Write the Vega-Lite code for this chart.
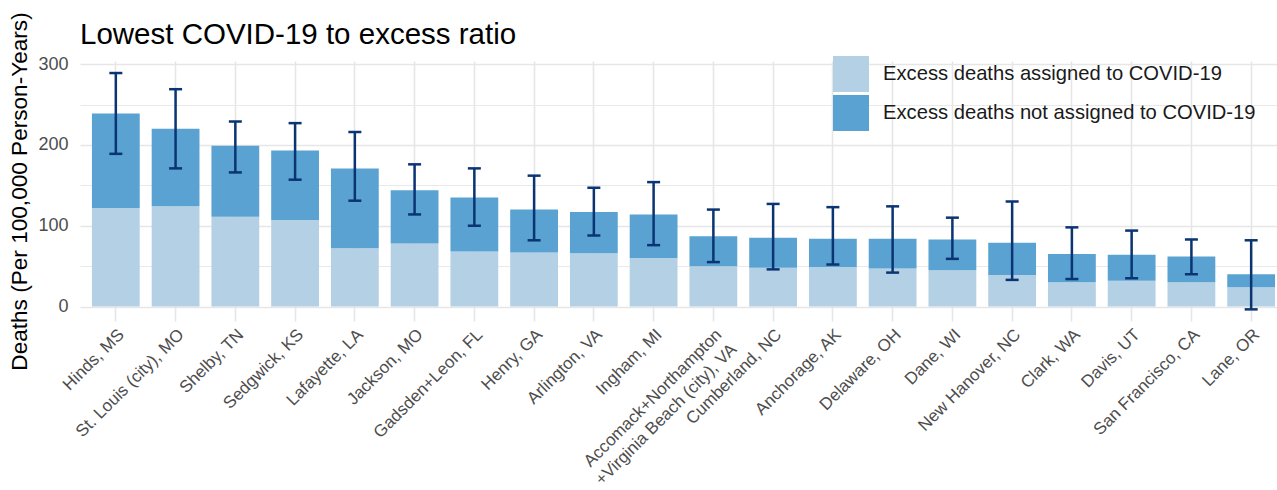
{
  "$schema": "https://vega.github.io/schema/vega-lite/v6.json",
  "width": 1197,
  "height": 260,
  "autosize": {"type": "none"},
  "padding": {"left": 80, "top": 61, "right": 0, "bottom": 169},
  "background": "white",
  "config": {
    "font": "Liberation Sans",
    "view": {"stroke": null},
    "title": {"fontSize": 29.5, "fontWeight": "normal", "color": "#000000", "anchor": "start", "frame": "group", "offset": 0, "dy": 43}
  },
  "title": "Lowest COVID-19 to excess ratio",
  "datasets": {
    "deaths": [
      {"county": "Hinds, MS", "type": "Excess deaths assigned to COVID-19", "value": 122},
      {"county": "Hinds, MS", "type": "Excess deaths not assigned to COVID-19", "value": 117},
      {"county": "St. Louis (city), MO", "type": "Excess deaths assigned to COVID-19", "value": 124},
      {"county": "St. Louis (city), MO", "type": "Excess deaths not assigned to COVID-19", "value": 96},
      {"county": "Shelby, TN", "type": "Excess deaths assigned to COVID-19", "value": 111},
      {"county": "Shelby, TN", "type": "Excess deaths not assigned to COVID-19", "value": 88},
      {"county": "Sedgwick, KS", "type": "Excess deaths assigned to COVID-19", "value": 107},
      {"county": "Sedgwick, KS", "type": "Excess deaths not assigned to COVID-19", "value": 86},
      {"county": "Lafayette, LA", "type": "Excess deaths assigned to COVID-19", "value": 72},
      {"county": "Lafayette, LA", "type": "Excess deaths not assigned to COVID-19", "value": 99},
      {"county": "Jackson, MO", "type": "Excess deaths assigned to COVID-19", "value": 78},
      {"county": "Jackson, MO", "type": "Excess deaths not assigned to COVID-19", "value": 66},
      {"county": "Gadsden+Leon, FL", "type": "Excess deaths assigned to COVID-19", "value": 68},
      {"county": "Gadsden+Leon, FL", "type": "Excess deaths not assigned to COVID-19", "value": 67},
      {"county": "Henry, GA", "type": "Excess deaths assigned to COVID-19", "value": 67},
      {"county": "Henry, GA", "type": "Excess deaths not assigned to COVID-19", "value": 53},
      {"county": "Arlington, VA", "type": "Excess deaths assigned to COVID-19", "value": 66},
      {"county": "Arlington, VA", "type": "Excess deaths not assigned to COVID-19", "value": 51},
      {"county": "Ingham, MI", "type": "Excess deaths assigned to COVID-19", "value": 60},
      {"county": "Ingham, MI", "type": "Excess deaths not assigned to COVID-19", "value": 54},
      {"county": "Accomack+Northampton\n+Virginia Beach (city), VA", "type": "Excess deaths assigned to COVID-19", "value": 50},
      {"county": "Accomack+Northampton\n+Virginia Beach (city), VA", "type": "Excess deaths not assigned to COVID-19", "value": 37},
      {"county": "Cumberland, NC", "type": "Excess deaths assigned to COVID-19", "value": 48},
      {"county": "Cumberland, NC", "type": "Excess deaths not assigned to COVID-19", "value": 37},
      {"county": "Anchorage, AK", "type": "Excess deaths assigned to COVID-19", "value": 49},
      {"county": "Anchorage, AK", "type": "Excess deaths not assigned to COVID-19", "value": 35},
      {"county": "Delaware, OH", "type": "Excess deaths assigned to COVID-19", "value": 47},
      {"county": "Delaware, OH", "type": "Excess deaths not assigned to COVID-19", "value": 37},
      {"county": "Dane, WI", "type": "Excess deaths assigned to COVID-19", "value": 45},
      {"county": "Dane, WI", "type": "Excess deaths not assigned to COVID-19", "value": 38},
      {"county": "New Hanover, NC", "type": "Excess deaths assigned to COVID-19", "value": 39},
      {"county": "New Hanover, NC", "type": "Excess deaths not assigned to COVID-19", "value": 40},
      {"county": "Clark, WA", "type": "Excess deaths assigned to COVID-19", "value": 30},
      {"county": "Clark, WA", "type": "Excess deaths not assigned to COVID-19", "value": 35},
      {"county": "Davis, UT", "type": "Excess deaths assigned to COVID-19", "value": 32},
      {"county": "Davis, UT", "type": "Excess deaths not assigned to COVID-19", "value": 32},
      {"county": "San Francisco, CA", "type": "Excess deaths assigned to COVID-19", "value": 30},
      {"county": "San Francisco, CA", "type": "Excess deaths not assigned to COVID-19", "value": 32},
      {"county": "Lane, OR", "type": "Excess deaths assigned to COVID-19", "value": 24},
      {"county": "Lane, OR", "type": "Excess deaths not assigned to COVID-19", "value": 16}
    ],
    "intervals": [
      {"county": "Hinds, MS", "lower": 189, "upper": 289},
      {"county": "St. Louis (city), MO", "lower": 171, "upper": 269},
      {"county": "Shelby, TN", "lower": 166, "upper": 229},
      {"county": "Sedgwick, KS", "lower": 157, "upper": 227},
      {"county": "Lafayette, LA", "lower": 131, "upper": 216},
      {"county": "Jackson, MO", "lower": 114, "upper": 176},
      {"county": "Gadsden+Leon, FL", "lower": 100, "upper": 171},
      {"county": "Henry, GA", "lower": 82, "upper": 162},
      {"county": "Arlington, VA", "lower": 88, "upper": 147},
      {"county": "Ingham, MI", "lower": 76, "upper": 154},
      {"county": "Accomack+Northampton\n+Virginia Beach (city), VA", "lower": 55, "upper": 120},
      {"county": "Cumberland, NC", "lower": 46, "upper": 127},
      {"county": "Anchorage, AK", "lower": 52, "upper": 123},
      {"county": "Delaware, OH", "lower": 42, "upper": 124},
      {"county": "Dane, WI", "lower": 59, "upper": 110},
      {"county": "New Hanover, NC", "lower": 33, "upper": 130},
      {"county": "Clark, WA", "lower": 34, "upper": 98},
      {"county": "Davis, UT", "lower": 35, "upper": 94},
      {"county": "San Francisco, CA", "lower": 40, "upper": 83},
      {"county": "Lane, OR", "lower": -3.5, "upper": 82}
    ]
  },
  "encoding": {
    "x": {
      "field": "county",
      "type": "nominal",
      "sort": null,
      "title": null,
      "scale": {"paddingInner": 0.2, "paddingOuter": 0.116, "align": 0.86},
      "axis": {
        "bandPosition": 0.5,
        "grid": true,
        "gridColor": "#e6e6e6",
        "gridWidth": 1.6,
        "ticks": false,
        "domain": false,
        "labelAngle": -45,
        "labelAlign": "right",
        "labelBaseline": "top",
        "labelPadding": 5,
        "labelDx": 2,
        "labelFontSize": 17,
        "labelColor": "#4d4d4d",
        "labelLineHeight": 21,
        "labelLimit": 400,
        "labelExpr": "split(datum.label, '\\n')"
      }
    }
  },
  "layer": [
    {
      "data": {"name": "deaths"},
      "mark": {"type": "bar"},
      "encoding": {
        "y": {
          "field": "value",
          "type": "quantitative",
          "stack": "zero",
          "title": "Deaths (Per 100,000 Person-Years)",
          "scale": {"domain": [-17.9, 303.9], "nice": false, "zero": false},
          "axis": {
            "values": [0, 50, 100, 150, 200, 250, 300],
            "labelExpr": "datum.value % 100 === 0 ? datum.label : ''",
            "grid": true,
            "gridColor": "#e6e6e6",
            "gridWidth": {"condition": {"test": "datum.value % 100 === 0", "value": 1.6}, "value": 0.9},
            "ticks": false,
            "domain": false,
            "labelFontSize": 18,
            "labelColor": "#4d4d4d",
            "labelPadding": 12,
            "titleFontSize": 22.6,
            "titleFontWeight": "normal",
            "titleColor": "#000000",
            "titlePadding": 6
          }
        },
        "color": {
          "field": "type",
          "type": "nominal",
          "scale": {
            "domain": ["Excess deaths assigned to COVID-19", "Excess deaths not assigned to COVID-19"],
            "range": ["#b4d0e5", "#59a2d2"]
          },
          "legend": {
            "orient": "none",
            "legendX": 753,
            "legendY": -5,
            "title": null,
            "padding": 0,
            "symbolType": "square",
            "symbolSize": 1296,
            "symbolStrokeWidth": 0,
            "symbolOpacity": 1,
            "labelFontSize": 20.2,
            "labelColor": "#1a1a1a",
            "labelOffset": 14,
            "rowPadding": 3,
            "labelLimit": 500
          }
        },
        "order": {"field": "type", "sort": "ascending"}
      }
    },
    {
      "data": {"name": "intervals"},
      "mark": {"type": "rule", "color": "#0b3473", "strokeWidth": 2.5},
      "encoding": {
        "y": {"field": "lower", "type": "quantitative"},
        "y2": {"field": "upper"}
      }
    },
    {
      "data": {"name": "intervals"},
      "mark": {"type": "tick", "color": "#0b3473", "size": 13, "thickness": 2.5, "opacity": 1},
      "encoding": {
        "y": {"field": "lower", "type": "quantitative"}
      }
    },
    {
      "data": {"name": "intervals"},
      "mark": {"type": "tick", "color": "#0b3473", "size": 13, "thickness": 2.5, "opacity": 1},
      "encoding": {
        "y": {"field": "upper", "type": "quantitative"}
      }
    }
  ]
}
